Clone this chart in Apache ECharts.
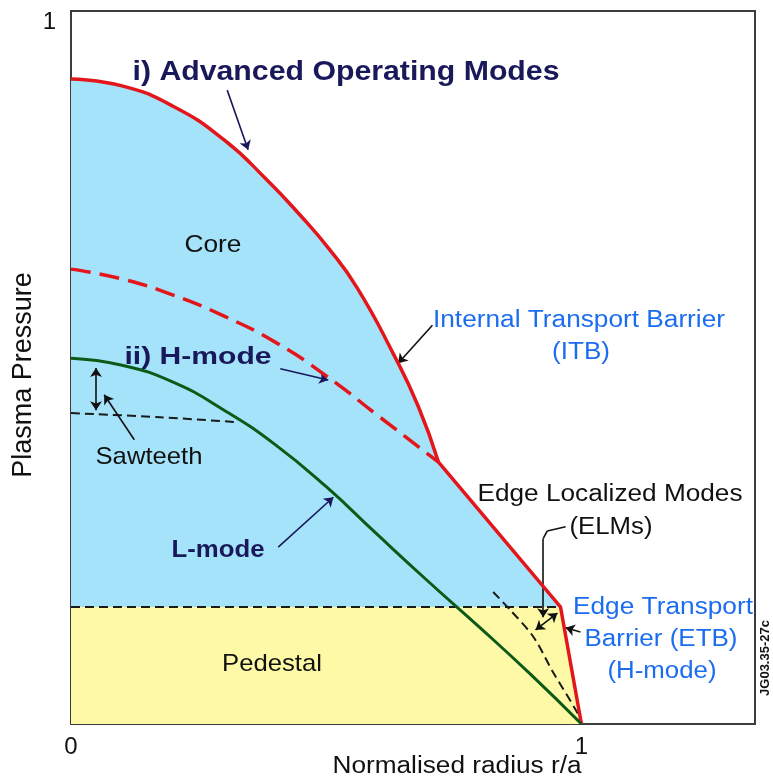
<!DOCTYPE html>
<html>
<head>
<meta charset="utf-8">
<script src="https://cdn.jsdelivr.net/npm/echarts@6/dist/echarts.min.js"></script>
<style>
  html, body { margin: 0; padding: 0; background: #ffffff; }
  #chart { width: 773px; height: 784px; }
</style>
</head>
<body>
<div id="chart"></div>
<script>
// Pressure profiles versus normalised radius r/a

// i) Advanced operating modes: curved core part up to the ITB foot
const advCoreRadius   = [0, 0.10, 0.20, 0.30, 0.384, 0.45, 0.502, 0.56, 0.631, 0.68, 0.72];
const advCorePressure = [0.919, 0.909, 0.880, 0.832, 0.775, 0.724, 0.680, 0.622, 0.528, 0.453, 0.373];

// Straight outer part shared with H-mode: down to the pedestal top, then the ETB
const edgeRadius   = [0.720, 0.959, 1.000];
const edgePressure = [0.373, 0.1667, 0];

// ii) H-mode (dashed)
const hModeRadius   = [0, 0.10, 0.20, 0.30, 0.40, 0.50, 0.60, 0.72];
const hModePressure = [0.648, 0.634, 0.611, 0.581, 0.544, 0.496, 0.440, 0.373];

// L-mode
const lModeRadius   = [0, 0.10, 0.20, 0.30, 0.40, 0.50, 0.60, 0.70, 0.80, 0.90, 1.00];
const lModePressure = [0.521, 0.511, 0.487, 0.447, 0.398, 0.338, 0.270, 0.203, 0.138, 0.071, 0];

// Flattened centre after a sawtooth crash
const sawRadius   = [0, 0.175, 0.325];
const sawPressure = [0.443, 0.437, 0.430];

// Pedestal height and its outer corner
const pedestalRadius   = [0, 0.959];
const pedestalPressure = [0.1667, 0.1667];

// Profile after an ELM crash
const elmRadius   = [0.827, 0.861, 0.906, 0.945, 0.992, 1.000];
const elmPressure = [0.188, 0.162, 0.124, 0.073, 0.016, 0];

// Axis ticks
const xTicks = [0, 1];
const yTicks = [1];

const zip = (xs, ys) => xs.map((x, i) => [x, ys[i]]);

const RED = '#e3161c';
const GREEN = '#0d5a16';
const NAVY = '#18185a';
const BLUE_TXT = '#1b6df0';
const CORE_FILL = '#a5e3fa';
const PED_FILL = '#fdf9a6';
const FONT = '"Liberation Sans", Arial, Helvetica, sans-serif';
const SMOOTH = 0.5;

const chart = echarts.init(document.getElementById('chart'), null, { renderer: 'canvas' });

// text helper: stretch each label horizontally to a given width
const mctx = document.createElement('canvas').getContext('2d');
function label(text, cx, cy, size, width, opt) {
  opt = opt || {};
  const font = (opt.bold ? 'bold ' : '') + size + 'px ' + FONT;
  mctx.font = font;
  const w = mctx.measureText(text).width;
  return {
    type: 'text', x: cx, y: cy, z: 100,
    scaleX: width ? width / w : 1,
    rotation: opt.rotation || 0,
    silent: true,
    style: {
      text: text, font: font, fill: opt.color || '#111',
      textAlign: 'center', textVerticalAlign: 'middle'
    }
  };
}

function arrow(p1, p2, color, startSym, endSym) {
  return [
    { coord: p1, symbol: startSym || 'none', lineStyle: { color: color, width: 1.6, type: 'solid' } },
    { coord: p2, symbol: endSym || 'arrow' }
  ];
}

const lineBase = { type: 'line', showSymbol: false, symbol: 'none', silent: true, animation: false };

// the straight edge fill starts one point inside the curved core so the two fills overlap
const n = advCoreRadius.length;
const edgeFillData = zip(advCoreRadius.slice(n - 2, n - 1), advCorePressure.slice(n - 2, n - 1))
  .concat(zip(edgeRadius, edgePressure));

const option = {
  backgroundColor: '#ffffff',
  animation: false,
  grid: {
    left: 71, right: 18, top: 11, bottom: 60,
    show: true, borderColor: '#3c3c3c', borderWidth: 2, backgroundColor: 'transparent'
  },
  xAxis: {
    type: 'value', min: 0, max: 1.34, interval: 1,
    axisLine: { show: false }, axisTick: { show: false }, splitLine: { show: false },
    axisLabel: {
      margin: 11, fontSize: 24, color: '#111', fontFamily: FONT,
      showMaxLabel: false,
      formatter: v => (xTicks.indexOf(v) >= 0 ? String(v) : '')
    }
  },
  yAxis: {
    type: 'value', min: 0, max: 1.0157, interval: 1,
    axisLine: { show: false }, axisTick: { show: false }, splitLine: { show: false },
    axisLabel: {
      margin: 15, fontSize: 24, color: '#111', fontFamily: FONT,
      showMaxLabel: false,
      formatter: v => (yTicks.indexOf(v) >= 0 ? String(v) : '')
    }
  },
  series: [
    // filled regions
    Object.assign({}, lineBase, {
      name: 'core fill', data: zip(advCoreRadius, advCorePressure), smooth: SMOOTH,
      lineStyle: { opacity: 0 }, areaStyle: { color: CORE_FILL, opacity: 1 }, z: 1
    }),
    Object.assign({}, lineBase, {
      name: 'edge fill', data: edgeFillData,
      lineStyle: { opacity: 0 }, areaStyle: { color: CORE_FILL, opacity: 1 }, z: 1
    }),
    Object.assign({}, lineBase, {
      name: 'pedestal fill',
      data: zip(pedestalRadius, pedestalPressure).concat([[edgeRadius[2], edgePressure[2]]]),
      lineStyle: { opacity: 0 }, areaStyle: { color: PED_FILL, opacity: 1 }, z: 2
    }),
    // profiles
    Object.assign({}, lineBase, {
      name: 'Advanced', data: zip(advCoreRadius, advCorePressure), smooth: SMOOTH,
      lineStyle: { color: RED, width: 3.5 }, z: 5
    }),
    Object.assign({}, lineBase, {
      name: 'Edge', data: zip(edgeRadius, edgePressure),
      lineStyle: { color: RED, width: 3.5, join: 'miter' }, z: 5
    }),
    Object.assign({}, lineBase, {
      name: 'H-mode', data: zip(hModeRadius, hModePressure), smooth: SMOOTH,
      lineStyle: { color: RED, width: 3.5, type: [20, 9] }, z: 5
    }),
    Object.assign({}, lineBase, {
      name: 'L-mode', data: zip(lModeRadius, lModePressure), smooth: SMOOTH,
      lineStyle: { color: GREEN, width: 3 }, z: 5
    }),
    Object.assign({}, lineBase, {
      name: 'Sawteeth', data: zip(sawRadius, sawPressure), smooth: 0.3,
      lineStyle: { color: '#1a1a1a', width: 2, type: [9, 5] }, z: 4
    }),
    Object.assign({}, lineBase, {
      name: 'Pedestal', data: zip(pedestalRadius, pedestalPressure),
      lineStyle: { color: '#1a1a1a', width: 2, type: [9, 5] }, z: 4
    }),
    Object.assign({}, lineBase, {
      name: 'ELM', data: zip(elmRadius, elmPressure), smooth: 0.3,
      lineStyle: { color: '#1a1a1a', width: 2, type: [9, 5] }, z: 4
    }),
    // annotation arrows
    Object.assign({}, lineBase, {
      name: 'annotations', data: [], z: 6,
      markLine: {
        silent: true, animation: false, symbolSize: 9, precision: 4,
        label: { show: false }, emphasis: { disabled: true },
        data: [
          arrow([0.306, 0.903], [0.347, 0.818], NAVY),
          arrow([0.708, 0.568], [0.641, 0.514], '#111'),
          arrow([0.410, 0.506], [0.504, 0.490], NAVY),
          arrow([0.049, 0.507], [0.049, 0.447], '#111', 'arrow', 'arrow'),
          arrow([0.124, 0.405], [0.065, 0.469], '#111'),
          arrow([0.406, 0.252], [0.514, 0.323], NAVY),
          arrow([0.969, 0.281], [0.933, 0.275], '#111', 'none', 'none'),
          arrow([0.933, 0.275], [0.925, 0.264], '#111', 'none', 'none'),
          arrow([0.925, 0.264], [0.925, 0.152], '#111'),
          arrow([0.910, 0.134], [0.953, 0.158], '#111', 'arrow', 'arrow'),
          arrow([0.998, 0.131], [0.969, 0.137], '#111')
        ]
      }
    })
  ],
  graphic: [
    label('i) Advanced Operating Modes', 346, 73, 27, 427, { bold: true, color: NAVY }),
    label('Core', 213, 245, 24, 57),
    label('Internal Transport Barrier', 579, 321, 23, 292, { color: BLUE_TXT }),
    label('(ITB)', 581, 353, 23, 58, { color: BLUE_TXT }),
    label('ii) H-mode', 198, 358, 23, 147, { bold: true, color: NAVY }),
    label('Sawteeth', 149, 457, 24, 107),
    label('Edge Localized Modes', 610, 495, 23, 265),
    label('(ELMs)', 611, 528, 23, 83),
    label('L-mode', 218, 551, 23, 93, { bold: true, color: NAVY }),
    label('Edge Transport', 663, 608, 23, 180, { color: BLUE_TXT }),
    label('Barrier (ETB)', 661, 640, 23, 153, { color: BLUE_TXT }),
    label('(H-mode)', 662, 672, 23, 109, { color: BLUE_TXT }),
    label('Pedestal', 272, 664, 24, 100),
    label('Normalised radius r/a', 457, 767, 23, 249),
    label('Plasma Pressure', 24, 375, 27, 0, { rotation: Math.PI / 2 }),
    label('JG03.35-27c', 765, 658, 13, 0, { bold: true, rotation: Math.PI / 2 })
  ]
};

chart.setOption(option);
</script>
</body>
</html>
